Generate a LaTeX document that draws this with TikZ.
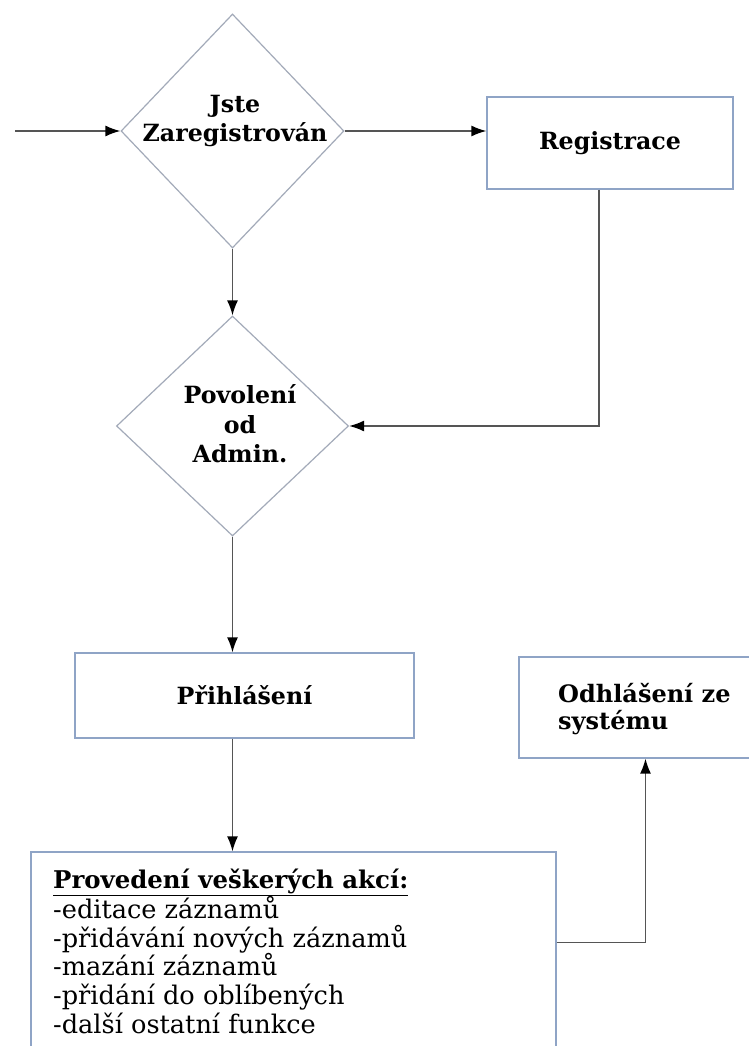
\documentclass[tikz,border=0pt]{standalone}
\usepackage{fontspec}
\setmainfont{DejaVu Serif}
\usetikzlibrary{shapes.geometric,arrows.meta,calc}
\definecolor{boxc}{HTML}{8FA4C6}
\definecolor{diac}{HTML}{A3AAB9}
\definecolor{linec}{HTML}{555555}
\newcommand\bfnt{\fontsize{23.7}{29.5}\selectfont\bfseries}
\newcommand\rfnt{\fontsize{25.6}{28.6}\selectfont}
\begin{document}
\begin{tikzpicture}[x=1pt,y=-1pt,
  box/.style={draw=boxc, line width=1.3pt, fill=white, inner sep=0pt},
  dia/.style={diamond, draw=diac, line width=1.2pt, fill=white, inner sep=0pt},
  btxt/.style={font=\bfnt, align=center, inner sep=0pt},
  conn/.style={draw=linec, line width=1.5pt, -{Latex[length=15pt,width=11pt,black]}},
]
\clip (0,0) rectangle (749,1046);
\fill[white] (0,0) rectangle (749,1046);

\node[dia, minimum width=223, minimum height=234] (d1) at (232.5,131) {};
\node[btxt] (t1) at (235,121) {Jste\\Zaregistrován};

\node[box, font=\bfnt, minimum width=246, minimum height=92] (reg) at (610,143) {Registrace};

\node[dia, minimum width=232, minimum height=220] (d2) at (232.5,426) {};
\node[btxt] (t2) at (240,424) {Povolení\\od\\Admin.};

\node[box, font=\bfnt, minimum width=339, minimum height=85] (prih) at (244.5,695.5) {Přihlášení};

\node[box, minimum width=253, minimum height=101] (odh) at (645.5,707.5) {};
\node[anchor=west, align=left, inner sep=0pt, font=\fontsize{24}{27}\selectfont\bfseries] (todh) at (558,709) {Odhlášení ze\\systému};

\node[box, minimum width=525, minimum height=218] (prov) at (293.5,961) {};
\node[anchor=west, align=left, inner sep=0pt, font=\rfnt] (tprov) at (53,951)
  {{\fontsize{24.4}{28.6}\selectfont\bfseries\underline{Provedení veškerých akcí:}}\\-editace záznamů\\-přidávání nových záznamů\\-mazání záznamů\\-přidání do oblíbených\\-další ostatní funkce};

\coordinate (start) at (15,131);
\draw[conn] (start) -- (d1.west);
\draw[conn] (d1.east) -- (d1.east -| reg.west);
\draw[conn] ([xshift=-11pt]reg.south) |- (d2.east);
\draw[conn] (d1.south) -- (d2.north);
\draw[conn] (d2.south) -- (d2.south |- prih.north);
\draw[conn] (d2.south |- prih.south) -- (d2.south |- prov.north);
\draw[conn] ([yshift=-91pt]prov.north east) -| (odh.south);
\end{tikzpicture}
\end{document}
